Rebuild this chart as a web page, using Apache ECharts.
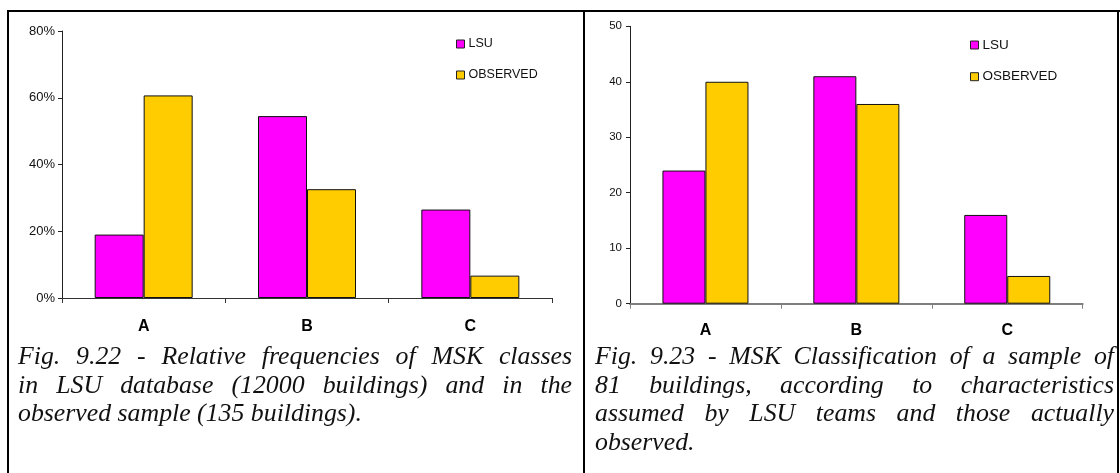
<!DOCTYPE html>
<html>
<head>
<meta charset="utf-8">
<script src="https://cdn.jsdelivr.net/npm/echarts@6/dist/echarts.min.js"></script>
<style>
  html, body { margin: 0; padding: 0; background: #fff; }
  #page { position: relative; width: 1120px; height: 473px; overflow: hidden; }
  #chart { position: absolute; left: 0; top: 0; width: 1120px; height: 473px; }
  .rule { position: absolute; background: #000; }
  .caption {
    position: absolute;
    font-family: 'Liberation Serif', 'Times New Roman', serif;
    font-style: italic;
    font-size: 25.8px;
    line-height: 28.5px;
    color: #111;
  }
  .caption div { white-space: nowrap; }
  .caption div.j { text-align: justify; text-align-last: justify; }
</style>
</head>
<body>
<div id="page">
  <div id="chart"></div>
  <div class="rule" style="left:7px; top:10px; width:1113px; height:2px;"></div>
  <div class="rule" style="left:7px; top:10px; width:2px; height:463px;"></div>
  <div class="rule" style="left:583px; top:10px; width:2px; height:463px;"></div>
  <div class="rule" style="left:1117px; top:10px; width:2px; height:463px;"></div>
  <div class="caption" id="cap1" style="left:18px; top:342px; width:554px;"></div>
  <div class="caption" id="cap2" style="left:595px; top:342px; width:519px;"></div>
</div>
<script>
// MSK classes
const categories = ['A', 'B', 'C'];

// Fig. 9.22: relative frequencies (%)
const lsuShare = [19.0, 54.5, 26.5];
const observedShare = [60.7, 32.6, 6.7];
const shareTicks = { min: 0, max: 80, interval: 20 };

// Fig. 9.23: number of buildings
const lsuCount = [24, 41, 16];
const observedCount = [40, 36, 5];
const countTicks = { min: 0, max: 50, interval: 10 };

const caption1 = [
  'Fig. 9.22 - Relative frequencies of MSK classes',
  'in LSU database (12000 buildings) and in the',
  'observed sample (135 buildings).'
];
const caption2 = [
  'Fig. 9.23 - MSK Classification of a sample of',
  '81 buildings, according to characteristics',
  'assumed by LSU teams and those actually',
  'observed.'
];

function fillCaption(id, lines) {
  const box = document.getElementById(id);
  lines.forEach((t, i) => {
    const d = document.createElement('div');
    if (i < lines.length - 1) d.className = 'j';
    d.textContent = t;
    box.appendChild(d);
  });
}
fillCaption('cap1', caption1);
fillCaption('cap2', caption2);

const MAGENTA = '#FF00FF';
const GOLD = '#FFCC00';
const SANS = "'Liberation Sans', Arial, sans-serif";

const chart = echarts.init(document.getElementById('chart'), null, { renderer: 'canvas' });

function xAxisFor(gridIndex, lineColor, lineWidth, margin) {
  return {
    type: 'category',
    gridIndex,
    data: categories,
    boundaryGap: true,
    axisLine: { lineStyle: { color: lineColor, width: lineWidth } },
    axisTick: { show: true, alignWithLabel: false, length: 5, lineStyle: { color: lineColor } },
    axisLabel: { color: '#000', fontFamily: SANS, fontWeight: 'bold', fontSize: 16, margin }
  };
}

function yAxisFor(gridIndex, ticks, fmt, fontSize, margin) {
  return {
    type: 'value',
    gridIndex,
    min: ticks.min,
    max: ticks.max,
    interval: ticks.interval,
    splitLine: { show: false },
    axisLine: { show: true, lineStyle: { color: '#222', width: 1 } },
    axisTick: { show: true, length: 4, lineStyle: { color: '#222' } },
    axisLabel: { color: '#111', fontFamily: SANS, fontSize, margin, formatter: fmt }
  };
}

function barSeries(name, data, color, axisIndex, catGap) {
  return {
    type: 'bar',
    name,
    data,
    xAxisIndex: axisIndex,
    yAxisIndex: axisIndex,
    barGap: '0%',
    barCategoryGap: catGap,
    itemStyle: { color, borderColor: '#111', borderWidth: 1 },
    emphasis: { disabled: true }
  };
}

function legendFor(left, top, gap, names, fontSize) {
  return {
    orient: 'vertical',
    left,
    top,
    padding: 0,
    itemGap: gap,
    itemWidth: 8,
    itemHeight: 8,
    icon: 'rect',
    data: names,
    itemStyle: { borderColor: '#222', borderWidth: 1 },
    textStyle: { color: '#111', fontFamily: SANS, fontSize, lineHeight: 14, padding: [0, 0, 0, -1] },
    selectedMode: false
  };
}

chart.setOption({
  animation: false,
  grid: [
    { left: 62, top: 31, width: 490, height: 267 },
    { left: 630, top: 26.3, width: 452.7, height: 277.4 }
  ],
  legend: [
    legendFor(456, 37, 17, ['LSU', 'OBSERVED'], 12.5),
    legendFor(970, 38, 17.7, ['LSU', 'OSBERVED'], 13.5)
  ],
  xAxis: [
    xAxisFor(0, '#333', 1, 21),
    xAxisFor(1, '#7f7f7f', 2, 19)
  ],
  yAxis: [
    yAxisFor(0, shareTicks, '{value}%', 13, 7),
    yAxisFor(1, countTicks, '{value}', 11.5, 8)
  ],
  series: [
    barSeries('LSU', lsuShare, MAGENTA, 0, '40%'),
    barSeries('OBSERVED', observedShare, GOLD, 0, '40%'),
    barSeries('LSU', lsuCount, MAGENTA, 1, '43%'),
    barSeries('OSBERVED', observedCount, GOLD, 1, '43%')
  ]
});
</script>
</body>
</html>
